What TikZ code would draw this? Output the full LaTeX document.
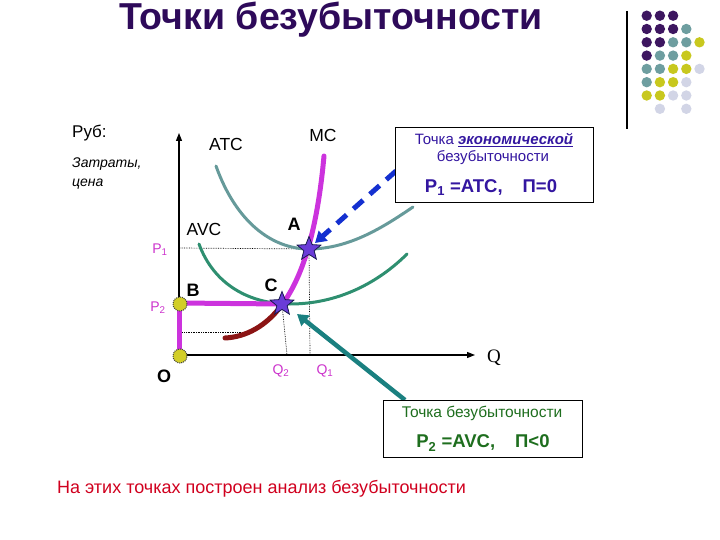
\documentclass[tikz,border=0pt]{standalone}
\usepackage{fontspec}
\setmainfont{Liberation Sans}
\newfontfamily\serifQ{Liberation Serif}
\usetikzlibrary{shapes.geometric,arrows.meta}
\definecolor{titlec}{HTML}{2E0A5A}
\definecolor{dotP}{HTML}{3D1660}
\definecolor{dotT}{HTML}{6E9EA0}
\definecolor{dotY}{HTML}{C8C81E}
\definecolor{dotL}{HTML}{D2D5E6}
\definecolor{mcc}{HTML}{CC33DD}
\definecolor{plab}{HTML}{CC33CC}
\definecolor{atcc}{HTML}{669A9A}
\definecolor{avcc}{HTML}{2E8F70}
\definecolor{darkred}{HTML}{8B1414}
\definecolor{blueA}{HTML}{1430D0}
\definecolor{tealA}{HTML}{1A8080}
\definecolor{boxone}{HTML}{3316A0}
\definecolor{boxtwo}{HTML}{1E6E1E}
\definecolor{redtxt}{HTML}{D0001E}
\definecolor{starfill}{HTML}{6A3CD8}
\definecolor{staredge}{HTML}{1A1A50}
\definecolor{yfill}{HTML}{D2CE28}
\tikzset{
  fs/.style={font=\fontsize{#1}{#1}\selectfont},
  lbl/.style={inner sep=0pt,anchor=center},
  ydot/.style={circle,fill=yfill,draw=black!75,densely dotted,line width=1pt,minimum size=14pt,inner sep=0pt},
  starnode/.style={star,star points=5,star point ratio=2.3,minimum size=25pt,inner sep=0pt,fill=starfill,draw=staredge,line width=0.8pt},
  curve/.style={line width=3pt,line cap=round},
  dotline/.style={densely dotted,line width=0.7pt},
  plabel/.style={lbl,text=plab,fs=14},
  textbox/.style={draw=black,line width=1pt,fill=white,inner sep=0pt}
}
\begin{document}
\begin{tikzpicture}[x=1pt,y=-1pt]
\useasboundingbox (0,0) rectangle (720,540);
% title
\node[lbl,fs=37.5,text=titlec] (title) at (331,20) {\bfseries Точки безубыточности};
% decorative vertical line and dots
\draw[line width=1.2pt] (627,11) -- (627,129);
\foreach \c/\r/\col in {0/0/dotP,1/0/dotP,2/0/dotP,
  0/1/dotP,1/1/dotP,2/1/dotP,3/1/dotT,
  0/2/dotP,1/2/dotP,2/2/dotT,3/2/dotT,4/2/dotY,
  0/3/dotP,1/3/dotT,2/3/dotT,3/3/dotY,
  0/4/dotT,1/4/dotT,2/4/dotY,3/4/dotY,4/4/dotL,
  0/5/dotT,1/5/dotY,2/5/dotY,3/5/dotL,
  0/6/dotY,1/6/dotY,2/6/dotL,3/6/dotL,
  1/7/dotL,3/7/dotL}
  \fill[\col] ({646.7+13.2*\c},{15.7+13.3*\r}) circle (5.2);
% axis labels
\node[lbl,fs=17,anchor=west] (rub) at (72,133) {Руб:};
\node[lbl,fs=14,anchor=west] (zatr) at (72,164) {\itshape Затраты,};
\node[lbl,fs=14,anchor=west] (cena) at (72,184) {\itshape цена};
% coordinates
\coordinate (O) at (179,355);
\coordinate (ytop) at (179,133);
\coordinate (xend) at (475,355);
\coordinate (P1) at (179,248);
\coordinate (P2) at (179,303);
\coordinate (Apt) at (309,249);
\coordinate (Cpt) at (282,304);
\coordinate (Q1) at (310,355);
\coordinate (Q2) at (287,355);
\coordinate (Lp) at (179,332);
\coordinate (Lq) at (253,332);
% dotted guides
\draw[dotline] (P1) -- (Apt) -- (Q1);
\draw[dotline] (Cpt) -- (Q2);
\draw[dotline] (Lp) -- (Lq);
% axes
\draw[line width=1.3pt,-{Triangle[length=8pt,width=6pt]}] (O) -- (ytop);
\draw[line width=1.3pt,-{Triangle[length=8pt,width=6pt]}] (O) -- (xend);
% curves
\draw[curve,atcc] (216,166) .. controls (236,222) and (272,249) .. (309,249) .. controls (350,249) and (385,226) .. (413,207);
\draw[curve,avcc] (199,244) .. controls (214,285) and (250,304) .. (290,304) .. controls (340,304) and (380,281) .. (407,254);
\draw[line width=5pt,line cap=round,darkred] (281,306) .. controls (266,326) and (246,337) .. (225,338);
\draw[line width=5pt,line cap=round,mcc] (324,156) .. controls (318,222) and (305,275) .. (281,306);
\draw[line width=5pt,mcc] (P2) -- (Cpt);
\draw[line width=5pt,mcc] (P2) -- (O);
% dots and stars
\node[ydot] (dotP2) at (180,304) {};
\node[ydot] (dotO) at (180,356) {};
\node[starnode] (starA) at (Apt) {};
\node[starnode] (starC) at (Cpt) {};
% curve labels
\node[lbl,fs=17.5] (atc) at (226,144) {ATC};
\node[lbl,fs=17.5] (mc) at (323,135) {MC};
\node[lbl,fs=17.5] (avc) at (204,229) {AVC};
\node[lbl,fs=18] (la) at (294,224) {\bfseries A};
\node[lbl,fs=18] (lb) at (193,290) {\bfseries B};
\node[lbl,fs=18] (lc) at (271,285) {\bfseries C};
\node[lbl,fs=18] (lo) at (164,376) {\bfseries O};
\node[plabel] (lp1) at (160,250) {P\textsubscript{1}};
\node[plabel] (lp2) at (158,308) {P\textsubscript{2}};
\node[plabel] (lq2) at (281,371) {Q\textsubscript{2}};
\node[plabel] (lq1) at (325,371) {Q\textsubscript{1}};
\node[lbl,fs=19] (lq) at (494,358) {\serifQ Q};
% arrows
\coordinate (bluestart) at (396,171);
\coordinate (bluetip) at (315,243);
\draw[blueA,line width=5pt,dash pattern=on 13pt off 9pt,-{Triangle[length=11pt,width=13pt]}] (bluestart) -- (bluetip);
\coordinate (tealstart) at (405,400);
\coordinate (tealtip) at (297,314);
\draw[tealA,line width=4.5pt,-{Triangle[length=11pt,width=13pt]}] (tealstart) -- (tealtip);
% top box
\node[textbox,minimum width=198pt,minimum height=75pt] (box1) at (494,165.5) {};
\node[lbl,fs=15,text=boxone] (b1l1) at (494,140) {Точка \underline{\bfseries\itshape экономической}};
\node[lbl,fs=15,text=boxone] (b1l2) at (493,158) {безубыточности};
\node[lbl,fs=18.5,text=boxone] (b1l3) at (491,188) {\bfseries P\textsubscript{1} =ATC,\hspace{20pt}П=0};
% bottom box
\node[textbox,minimum width=199pt,minimum height=57pt] (box2) at (482.5,428.5) {};
\node[lbl,fs=15.5,text=boxtwo] (b2l1) at (482,413) {Точка безубыточности};
\node[lbl,fs=18.5,text=boxtwo] (b2l2) at (483,443) {\bfseries P\textsubscript{2} =AVC,\hspace{20pt}П<0};
% bottom caption
\node[lbl,fs=18,text=redtxt,anchor=west] (caption) at (57,489) {На этих точках построен анализ безубыточности};
\end{tikzpicture}
\end{document}
